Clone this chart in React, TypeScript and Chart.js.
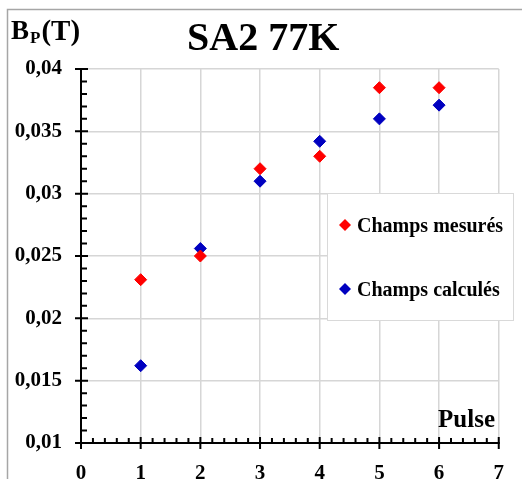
import React, { useEffect, useRef } from "react";
import { Chart, registerables } from "chart.js";

Chart.register(...registerables);

const pulses = [1, 2, 3, 4, 5, 6];
const measured = [0.0231, 0.025, 0.032, 0.033, 0.0385, 0.0385];
const calculated = [0.0162, 0.0256, 0.031, 0.0342, 0.036, 0.0371];
const xTicks = [0, 1, 2, 3, 4, 5, 6, 7];
const yTicks = [0.01, 0.015, 0.02, 0.025, 0.03, 0.035, 0.04];
const seriesNames = ["Champs mesurés", "Champs calculés"];
const seriesColors = ["#ff0000", "#0000c0"];
const chartTitle = "SA2 77K";
const xTitle = "Pulse";

const FONT = '"Liberation Serif", "Times New Roman", serif';

function diamond(ctx: CanvasRenderingContext2D, x: number, y: number, r: number, color: string) {
  ctx.beginPath();
  ctx.moveTo(x, y - r);
  ctx.lineTo(x + r, y);
  ctx.lineTo(x, y + r);
  ctx.lineTo(x - r, y);
  ctx.closePath();
  ctx.fillStyle = color;
  ctx.fill();
}

const decor = {
  id: "decor",
  beforeDraw(chart: any) {
    const ctx = chart.ctx as CanvasRenderingContext2D;
    ctx.save();
    ctx.fillStyle = "#ffffff";
    ctx.fillRect(0, 0, chart.width, chart.height);
    ctx.strokeStyle = "#a6a6a6";
    ctx.lineWidth = 1.5;
    ctx.strokeRect(7.5, 9.5, chart.width + 40, chart.height + 40);
    ctx.restore();
  },
  afterDraw(chart: any) {
    const ctx = chart.ctx as CanvasRenderingContext2D;
    const ca = chart.chartArea;
    const xs = chart.scales.x;
    const ys = chart.scales.y;
    ctx.save();
    ctx.strokeStyle = "#000";
    ctx.lineWidth = 2;
    ctx.beginPath();
    ctx.moveTo(ca.left, ca.top - 1);
    ctx.lineTo(ca.left, ca.bottom);
    ctx.lineTo(ca.right + 1, ca.bottom);
    ctx.stroke();

    ctx.beginPath();
    const yN = 30;
    for (let i = 0; i <= yN; i++) {
      const v = ys.min + (i * (ys.max - ys.min)) / yN;
      const py = ys.getPixelForValue(v);
      if (i % 5 === 0) {
        ctx.moveTo(ca.left - 6, py);
        ctx.lineTo(ca.left + 7, py);
      } else {
        ctx.moveTo(ca.left, py);
        ctx.lineTo(ca.left + 6, py);
      }
    }
    const xN = 35;
    for (let i = 0; i <= xN; i++) {
      const v = xs.min + (i * (xs.max - xs.min)) / xN;
      const px = xs.getPixelForValue(v);
      if (i % 5 === 0) {
        ctx.moveTo(px, ca.bottom - 6);
        ctx.lineTo(px, ca.bottom + 6);
      } else {
        ctx.moveTo(px, ca.bottom);
        ctx.lineTo(px, ca.bottom - 5);
      }
    }
    ctx.stroke();

    // Legend box
    const lx = 327, ly = 193, lw = 186, lh = 127;
    ctx.fillStyle = "#ffffff";
    ctx.fillRect(lx, ly, lw, lh);
    ctx.strokeStyle = "#d9d9d9";
    ctx.lineWidth = 1;
    ctx.strokeRect(lx + 0.5, ly + 0.5, lw, lh);
    ctx.font = `bold 20px ${FONT}`;
    ctx.textAlign = "left";
    ctx.textBaseline = "alphabetic";
    chart.data.datasets.forEach((ds: any, i: number) => {
      const cy = i === 0 ? 225 : 289;
      diamond(ctx, 345, cy, 6, ds.backgroundColor);
      ctx.fillStyle = "#000";
      ctx.fillText(ds.label, 357, cy + 7);
    });

    // Title
    ctx.fillStyle = "#000";
    ctx.font = `bold 40px ${FONT}`;
    ctx.textAlign = "left";
    ctx.fillText(chartTitle, 187, 50);

    // Y axis title B_P(T)
    ctx.font = `bold 27px ${FONT}`;
    ctx.fillText("B", 11, 39);
    const bw = ctx.measureText("B").width;
    ctx.font = `bold 17px ${FONT}`;
    ctx.fillText("P", 11 + bw + 1, 43);
    const pw = ctx.measureText("P").width;
    ctx.font = `bold 29px ${FONT}`;
    ctx.fillText("(T)", 11 + bw + pw + 2, 40);

    // X axis title
    ctx.font = `bold 25px ${FONT}`;
    ctx.textAlign = "right";
    ctx.fillText(xTitle, 495, 427);
    ctx.restore();
  },
};

export default function App() {
  const ref = useRef<HTMLCanvasElement | null>(null);
  useEffect(() => {
    if (!ref.current) return;
    const tickFont = { family: FONT, size: 21, weight: "bold" as const };
    const chart = new Chart(ref.current, {
      type: "scatter",
      data: {
        datasets: [
          {
            label: seriesNames[0],
            data: pulses.map((p, i) => ({ x: p, y: measured[i] })),
            pointStyle: "rectRot",
            pointRadius: 6,
            backgroundColor: seriesColors[0],
            borderColor: seriesColors[0],
            borderWidth: 1,
          },
          {
            label: seriesNames[1],
            data: pulses.map((p, i) => ({ x: p, y: calculated[i] })),
            pointStyle: "rectRot",
            pointRadius: 6,
            backgroundColor: seriesColors[1],
            borderColor: seriesColors[1],
            borderWidth: 1,
          },
        ],
      },
      options: {
        responsive: false,
        animation: false,
        layout: { padding: { left: 0, top: 69, right: 10, bottom: 0 } },
        plugins: {
          legend: { display: false },
          title: { display: false },
          tooltip: { enabled: false },
        },
        scales: {
          x: {
            type: "linear",
            min: 0,
            max: 7,
            afterBuildTicks: (s: any) => {
              s.ticks = xTicks.map((v) => ({ value: v }));
            },
            afterFit: (s: any) => {
              s.height = 36;
            },
            grid: { color: "#d6d6d6", lineWidth: 1.5, drawTicks: false },
            border: { display: false },
            ticks: {
              padding: 18,
              color: "#000",
              font: tickFont,
              autoSkip: false,
              maxRotation: 0,
              callback: (v: any) => String(v),
            },
          },
          y: {
            type: "linear",
            min: 0.01,
            max: 0.04,
            afterBuildTicks: (s: any) => {
              s.ticks = yTicks.map((v) => ({ value: v }));
            },
            afterFit: (s: any) => {
              s.width = 81;
            },
            grid: { color: "#d6d6d6", lineWidth: 1.5, drawTicks: false },
            border: { display: false },
            ticks: {
              padding: 19,
              color: "#000",
              font: tickFont,
              autoSkip: false,
              callback: (v: any) => String(+Number(v).toFixed(3)).replace(".", ","),
            },
          },
        },
      },
      plugins: [decor],
    });
    return () => chart.destroy();
  }, []);

  return (
    <div style={{ position: "fixed", left: 0, top: 0, width: 522, height: 479, overflow: "hidden", background: "#fff" }}>
      <canvas ref={ref} width={522} height={479} style={{ display: "block", width: 522, height: 479 }} />
    </div>
  );
}
